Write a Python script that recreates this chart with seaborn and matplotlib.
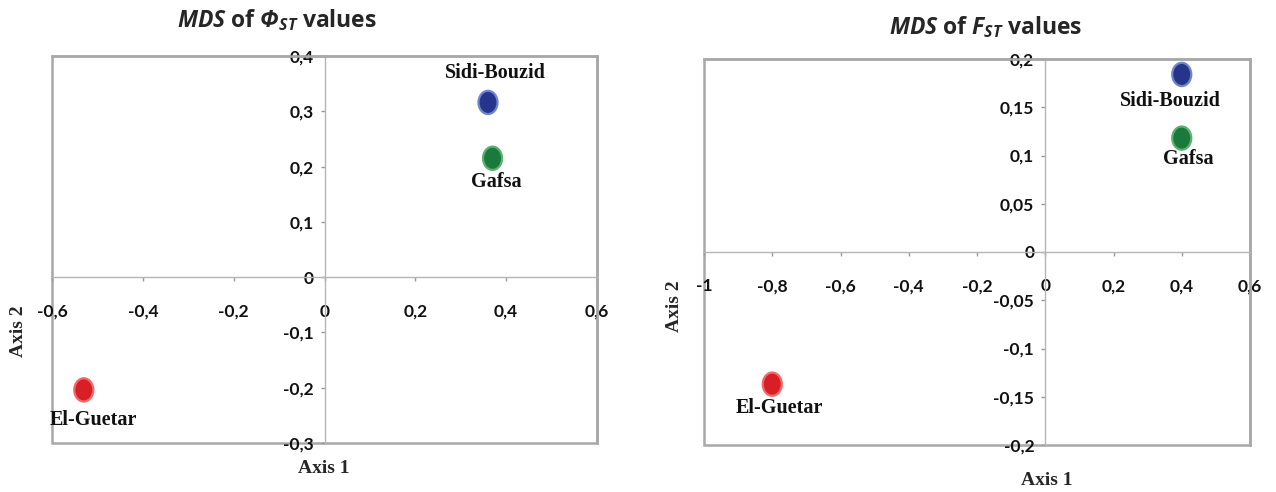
import numpy as np
import pandas as pd
import matplotlib
matplotlib.use("Agg")
import matplotlib.pyplot as plt
import seaborn as sns
from matplotlib.ticker import FuncFormatter, FixedLocator
from matplotlib.patches import Rectangle
from matplotlib.path import Path
from matplotlib.transforms import Affine2D

# ---- data ----
populations = ["Sidi-Bouzid", "Gafsa", "El-Guetar"]
phist_axis1 = [0.36, 0.37, -0.53]
phist_axis2 = [0.316, 0.215, -0.204]
fst_axis1 = [0.40, 0.40, -0.80]
fst_axis2 = [0.184, 0.118, -0.137]

phist_xticks = [-0.6, -0.4, -0.2, 0, 0.2, 0.4, 0.6]
phist_yticks = [-0.3, -0.2, -0.1, 0, 0.1, 0.2, 0.3, 0.4]
fst_xticks = [-1, -0.8, -0.6, -0.4, -0.2, 0, 0.2, 0.4, 0.6]
fst_yticks = [-0.2, -0.15, -0.1, -0.05, 0, 0.05, 0.1, 0.15, 0.2]

titles = [r"$\mathit{MDS}$ of $\mathit{Φ}_{\mathit{ST}}$ values",
          r"$\mathit{MDS}$ of $\mathit{F}_{\mathit{ST}}$ values"]

# ---- style ----
sns.set_theme(style="white")
plt.rcParams["font.family"] = ["Lato", "DejaVu Sans"]
plt.rcParams["mathtext.fontset"] = "custom"
plt.rcParams["mathtext.it"] = "Open Sans:italic:bold"
plt.rcParams["mathtext.rm"] = "Open Sans:italic:bold"
plt.rcParams["mathtext.bf"] = "Open Sans:bold"

palette = {"Sidi-Bouzid": "#27348b", "Gafsa": "#1a7a3c", "El-Guetar": "#d91f26"}
edges = {"Sidi-Bouzid": "#6f86c9", "Gafsa": "#5fae74", "El-Guetar": "#f06a6a"}

circle = Path.unit_circle()
ellipse = Path(Affine2D().scale(0.82, 1.0).transform(circle.vertices), circle.codes)

fig = plt.figure(figsize=(12.76, 4.92), dpi=100)
ax1 = fig.add_axes([52 / 1276, 49 / 492, 545 / 1276, 387 / 492])
ax2 = fig.add_axes([704 / 1276, 47 / 492, 546 / 1276, 386 / 492])

panels = [
    dict(ax=ax1, x=phist_axis1, y=phist_axis2, xt=phist_xticks, yt=phist_yticks,
         xlim=(-0.6, 0.6), ylim=(-0.3, 0.4), title=titles[0], tx=0.413, ty=1.093,
         offs={"Sidi-Bouzid": (5, 21), "Gafsa": (3, -17), "El-Guetar": (7, -22)},
         xl=(0.498, -0.045), yl=(-0.045, 0.29)),
    dict(ax=ax2, x=fst_axis1, y=fst_axis2, xt=fst_xticks, yt=fst_yticks,
         xlim=(-1, 0.6), ylim=(-0.2, 0.2), title=titles[1], tx=0.516, ty=1.083,
         offs={"Sidi-Bouzid": (-8, -19), "Gafsa": (5, -15), "El-Guetar": (5, -17)},
         xl=(0.627, -0.07), yl=(-0.038, 0.36)),
]

fmt = FuncFormatter(lambda v, p: f"{v:g}".replace(".", ","))

for pn in panels:
    ax = pn["ax"]
    df = pd.DataFrame({"Axis 1": pn["x"], "Axis 2": pn["y"], "pop": populations})
    sns.scatterplot(data=df, x="Axis 1", y="Axis 2", hue="pop", palette=palette,
                    marker=ellipse, s=280, linewidth=1.6,
                    edgecolor=[edges[p] for p in populations],
                    legend=False, ax=ax, zorder=5, clip_on=False)
    ax.set_xlim(*pn["xlim"])
    ax.set_ylim(*pn["ylim"])
    ax.xaxis.set_major_locator(FixedLocator(pn["xt"]))
    ax.yaxis.set_major_locator(FixedLocator(pn["yt"]))
    ax.xaxis.set_major_formatter(fmt)
    ax.yaxis.set_major_formatter(fmt)

    for s in ["left", "bottom"]:
        ax.spines[s].set_position("zero")
        ax.spines[s].set_color("#b5b5b5")
        ax.spines[s].set_linewidth(1.0)
    for s in ["top", "right"]:
        ax.spines[s].set_color("#a8a8a8")
        ax.spines[s].set_linewidth(1.8)
    ax.add_patch(Rectangle((0, 0), 1, 1, transform=ax.transAxes, fill=False,
                           edgecolor="#a8a8a8", linewidth=1.8, clip_on=False, zorder=0))

    ax.tick_params(axis="x", direction="out", length=3, width=1, color="#9a9a9a",
                   pad=16, labelsize=12.5, labelcolor="#111111", bottom=True)
    ax.tick_params(axis="y", direction="out", length=3, width=1, color="#9a9a9a",
                   pad=5, labelsize=12.5, labelcolor="#111111", left=True)
    for lab in ax.get_xticklabels() + ax.get_yticklabels():
        lab.set_fontweight("bold")

    ax.set_xlabel("Axis 1", fontfamily="Liberation Serif", fontweight="bold", fontsize=14)
    ax.set_ylabel("Axis 2", fontfamily="Liberation Serif", fontweight="bold", fontsize=14)
    ax.xaxis.set_label_coords(*pn["xl"])
    ax.yaxis.set_label_coords(*pn["yl"])

    ax.text(pn["tx"], pn["ty"], pn["title"], transform=ax.transAxes, ha="center",
            va="center", fontsize=16.5, fontweight="bold", fontfamily="Open Sans")

    for xi, yi, name in zip(pn["x"], pn["y"], populations):
        ax.annotate(name, (xi, yi), xytext=pn["offs"][name], textcoords="offset points",
                    ha="center", va="center", fontfamily="Liberation Serif",
                    fontweight="bold", fontsize=14.5, color="#111111", zorder=6)

fig.savefig("out.png", dpi=100)
